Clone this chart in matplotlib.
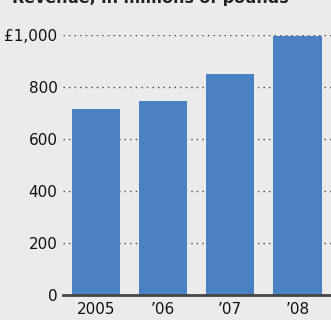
import matplotlib.pyplot as plt

years = ["2005", "\u201906", "\u201907", "\u201908"]
revenue = [715, 745, 850, 995]
yticks = [0, 200, 400, 600, 800, 1000]
ylabels = ["0", "200", "400", "600", "800", "\u00a31,000"]

bg = "#ebebeb"
fnt = "Liberation Sans Narrow"
fig = plt.figure(figsize=(3.31, 3.20), dpi=100, facecolor=bg)
ax = fig.add_axes([63/331, 25/320, 268/331, 260/320], facecolor=bg)

x = range(len(years))
ax.bar(x, revenue, width=0.72, color="#4a80c4", zorder=3)

ax.set_xlim(-0.49, 3.5)
ax.set_ylim(0, 1000)
ax.set_yticks(yticks)
ax.set_yticklabels(ylabels, fontsize=11, family=fnt)
ax.set_xticks(list(x))
ax.set_xticklabels(years, fontsize=11, family=fnt)
ax.tick_params(axis="both", length=0, colors="#111111")
ax.tick_params(axis="y", pad=4)
ax.tick_params(axis="x", pad=5)

for v in yticks[1:]:
    ax.axhline(v, color="#444444", lw=1.0, ls=(0, (1, 3)), zorder=1)

for s in ["top", "right", "left"]:
    ax.spines[s].set_visible(False)
ax.spines["bottom"].set_color("#444444")
ax.spines["bottom"].set_linewidth(2)
ax.spines["bottom"].set_zorder(4)

fig.text(12/331, 1 - 2.5/320, "Revenue, in millions of pounds", fontsize=11.4,
         fontweight="bold", color="#222222", va="baseline", ha="left", family=fnt)

fig.savefig("out.png", dpi=100, facecolor=bg)
